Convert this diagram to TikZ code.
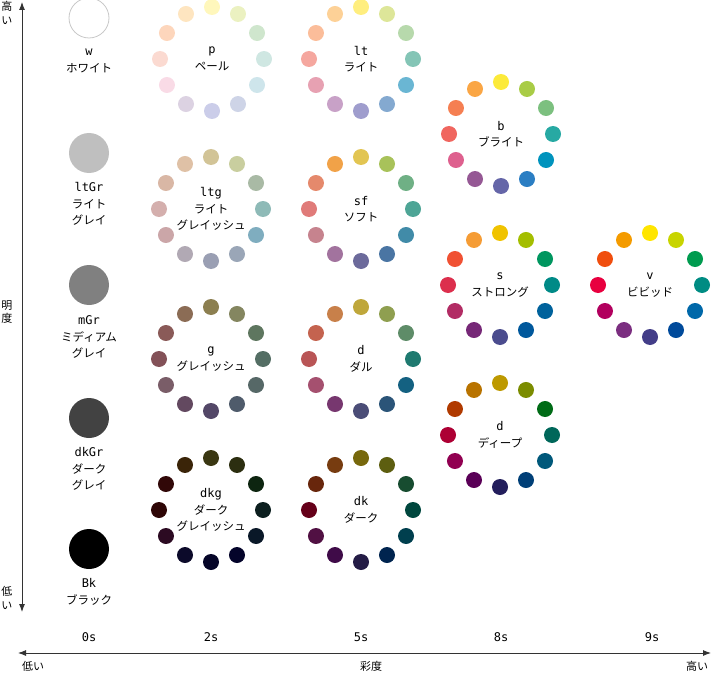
\documentclass[tikz,border=0pt]{standalone}
\usepackage{fontspec}
\setmainfont{Noto Sans CJK JP}
\setmonofont{DejaVu Sans Mono}
\usetikzlibrary{arrows.meta,positioning,calc}
\usepackage{xcolor}
\definecolor{axisgrey}{HTML}{333333}
\definecolor{ringgrey}{HTML}{C8C8C8}

% one ring of twelve hue dots round a tone label
\newcommand{\tonering}[4]{%
  \node[tonelabel] (#1) at (#2) {#4};
  \foreach \hex [count=\i] in {#3} {
    \edef\setdot{\noexpand\definecolor{dotcol}{HTML}{\hex}}\setdot
    \node[dot, fill=dotcol] (#1-\i) at ($(#1)+({90-30*(\i-1)}:52pt)$) {};
  }
}
\newcommand{\tonecode}[1]{{\ttfamily\fontsize{12}{16.5}\selectfont #1}}

\begin{document}
\begin{tikzpicture}[x=1pt, y=-1pt,
  dot/.style={circle, inner sep=0pt, minimum size=16pt},
  greydot/.style={circle, inner sep=0pt, minimum size=40pt},
  tonelabel/.style={align=center, inner sep=0pt, font=\fontsize{11.5}{16.5}\selectfont},
  axislabel/.style={align=center, inner sep=0pt, font=\fontsize{11}{13.5}\selectfont},
  axis/.style={{Latex[length=8pt,width=6pt]}-{Latex[length=8pt,width=6pt]}, axisgrey, line width=0.9pt}
]
  \useasboundingbox (0,0) rectangle (712,674);

  % achromatic column
  \node[greydot, fill=white, draw=ringgrey, thick] (w) at (89,18) {};
  \node[greydot, fill=black!25] (ltGr) at (89,153) {};
  \node[greydot, fill=black!50] (mGr) at (89,285) {};
  \node[greydot, fill=black!74] (dkGr) at (89,418) {};
  \node[greydot, fill=black] (Bk) at (89,549) {};
  \node[tonelabel] (w-lab) at (89,61) {\tonecode{w}\\ホワイト};
  \node[tonelabel] (ltGr-lab) at (89,204) {\tonecode{ltGr}\\ライト\\グレイ};
  \node[tonelabel] (mGr-lab) at (89,337) {\tonecode{mGr}\\ミディアム\\グレイ};
  \node[tonelabel] (dkGr-lab) at (89,469) {\tonecode{dkGr}\\ダーク\\グレイ};
  \node[tonelabel] (Bk-lab) at (89,592) {\tonecode{Bk}\\ブラック};

  % chromatic tones
  \tonering{p}{212,59}{FFF7BC,EBF1C1,CFE6CD,CFE7E2,CEE5EB,CED4E7,CBCDE9,DCD2E2,F9DBE6,FBDAD1,FDD6BC,FEE5C0}{\tonecode{p}\\ペール}
  \tonering{lt}{361,59}{FFEE7F,DDE699,B7D9AC,84C5B6,6AB6D3,84A9D0,9F9DCD,C8A1C7,E7A1B2,F5A79F,FBBD9A,FDD197}{\tonecode{lt}\\ライト}
  \tonering{b}{501,134}{FCEA3A,A9CC46,7CC07F,27A9A3,0093BD,2B7EC3,6566A8,955894,DE608E,F0665F,F57F52,FAA645}{\tonecode{b}\\ブライト}
  \tonering{ltg}{211,209}{D2C497,C9CE9F,A9BAA5,8EBAB7,7FADBF,9AA6B7,9A9FB3,B1A9B4,CBA6A8,D4AFAD,D9B7A5,DFC1A6}{\tonecode{ltg}\\ライト\\グレイッシュ}
  \tonering{sf}{361,209}{E2C552,A8C25A,6FB085,4EA596,418BA8,4A75A3,6C6A9B,A2739E,C6838E,E07B79,E5896C,F1A248}{\tonecode{sf}\\ソフト}
  \tonering{s}{500,285}{F0C300,A4BE00,00965F,008A87,00629C,00589C,4B4C8E,762877,B22C64,DC2F4D,F05133,F59C35}{\tonecode{s}\\ストロング}
  \tonering{v}{650,285}{FFE500,C8D400,009B4F,008C83,0068A9,004A9B,433D88,7B2E80,B2005E,E8003F,F04E0E,F49B00}{\tonecode{v}\\ビビッド}
  \tonering{g}{211,359}{8C7F50,848660,5E765F,546E64,566867,4F5B6B,534767,634960,7A5D68,835158,8A5A58,8B6C55}{\tonecode{g}\\グレイッシュ}
  \tonering{d}{361,359}{BFA73B,8F9F50,5E8C68,1F7A70,146181,2B5478,4B4D77,77376F,A5506F,B95556,C4634F,C8804A}{\tonecode{d}\\ダル}
  \tonering{dp}{500,435}{BD9900,7B8C00,006B16,00675A,00587A,003F77,231E5C,5A0057,910051,AD0034,B03A00,B87300}{\tonecode{d}\\ディープ}
  \tonering{dkg}{211,510}{3A3712,2C2E10,0D2510,0C1F1F,0A1828,04042A,050528,0C0A2A,2C0A22,2E0606,310808,3A2408}{\tonecode{dkg}\\ダーク\\グレイッシュ}
  \tonering{dk}{361,510}{77680C,5D5E10,174C30,00473E,003F4E,00244F,241C46,3F0B48,511043,650019,68260C,773C10}{\tonecode{dk}\\ダーク}

  % lightness axis
  \coordinate (vtop) at (22,2);
  \coordinate (vbot) at (22,612);
  \draw[axis] (vbot) -- (vtop);
  \node[axislabel] (hi-v) at (7,13) {高\\い};
  \node[axislabel] (light) at (7,312) {明\\度};
  \node[axislabel] (lo-v) at (7,598) {低\\い};

  % saturation axis
  \coordinate (hleft) at (18,653);
  \coordinate (hright) at (711,653);
  \draw[axis] (hleft) -- (hright);
  \node[tonelabel] (s0) at (89,637) {\tonecode{0s}};
  \node[tonelabel] (s2) at (211,637) {\tonecode{2s}};
  \node[tonelabel] (s5) at (361,637) {\tonecode{5s}};
  \node[tonelabel] (s8) at (501,637) {\tonecode{8s}};
  \node[tonelabel] (s9) at (652,637) {\tonecode{9s}};
  \node[axislabel] (lo-h) at (33,666) {低い};
  \node[axislabel] (chroma) at (371,666) {彩度};
  \node[axislabel] (hi-h) at (697,666) {高い};
\end{tikzpicture}
\end{document}
